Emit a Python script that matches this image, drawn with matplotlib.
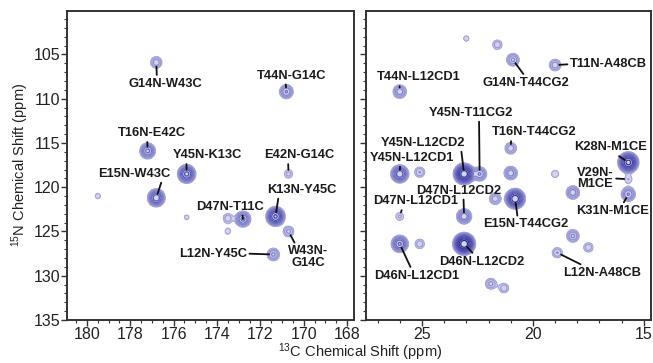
import numpy as np
import matplotlib
matplotlib.use("Agg")
import matplotlib.pyplot as plt
from matplotlib.colors import LinearSegmentedColormap
from matplotlib.ticker import MultipleLocator

plt.rcParams["font.family"] = ["Liberation Sans", "DejaVu Sans"]
plt.rcParams["mathtext.fontset"] = "custom"
plt.rcParams["mathtext.rm"] = "Liberation Sans"
plt.rcParams["mathtext.default"] = "regular"

# 左圖: 羰基碳 (C') 區域的峰 (13C, 15N, 強度)
left_peak_c = [176.8, 170.8, 177.2, 175.4, 176.8, 170.7, 171.3, 172.8, 170.7, 171.4,
               179.5, 173.5, 173.5, 175.4]
left_peak_n = [105.9, 109.2, 115.9, 118.5, 121.2, 118.5, 123.3, 123.6, 125.0, 127.6,
               121.0, 123.5, 125.0, 123.4]
left_peak_int = [2.5, 4, 6, 12, 10, 1.6, 16, 6, 2.2, 3,
                 1.2, 1.8, 1.2, 1.15]

left_labels = ["G14N-W43C", "T44N-G14C", "T16N-E42C", "Y45N-K13C", "E15N-W43C",
               "E42N-G14C", "K13N-Y45C", "D47N-T11C", "W43N-\nG14C", "L12N-Y45C"]
left_label_c = [176.4, 170.55, 177.0, 174.45, 177.8, 170.2, 170.1, 173.4, 169.8, 174.2]
left_label_n = [108.3, 107.4, 113.9, 116.4, 118.5, 116.4, 120.3, 122.2, 127.9, 127.5]
left_relpos = [(0.39, 1), (0.41, 0), (0.43, 0), (0.2, 0), (0.88, 0),
               (0.34, 0), (0.17, 0), (0.68, 0), (0.2, 1), (1, 0.5)]

# 右圖: 脂肪族碳區域的峰
right_peak_c = [26.0, 20.9, 19.0, 22.4, 23.1, 26.0, 21.0, 15.7, 15.7, 15.7,
                23.1, 26.0, 20.8, 26.0, 23.1, 18.9,
                23.0, 21.6, 25.1, 21.0, 19.0, 18.2, 21.7, 25.1, 18.2, 17.5, 21.9, 21.3]
right_peak_n = [109.2, 105.6, 106.2, 118.5, 118.5, 118.5, 115.6, 117.2, 119.1, 120.8,
                123.3, 123.3, 121.3, 126.4, 126.4, 127.4,
                103.2, 103.9, 118.3, 118.4, 118.5, 120.6, 121.3, 126.4, 125.5, 126.8, 130.9, 131.4]
right_peak_int = [3.5, 3, 2.5, 4, 28, 10, 2.5, 24, 1.4, 4,
                  5, 1.5, 20, 8, 40, 2,
                  1.2, 1.8, 2, 3.5, 1.4, 3.5, 2.5, 1.8, 3, 1.8, 2.2, 1.8]

right_labels = ["T44N-L12CD1", "G14N-T44CG2", "T11N-A48CB", "Y45N-T11CG2", "Y45N-L12CD2",
                "Y45N-L12CD1", "T16N-T44CG2", "K28N-M1CE", "V29N-\nM1CE", "K31N-M1CE",
                "D47N-L12CD2", "D47N-L12CD1", "E15N-T44CG2", "D46N-L12CD1", "D46N-L12CD2",
                "L12N-A48CB"]
right_label_c = [25.14, 20.3, 18.32, 22.77, 24.95, 25.45, 19.95, 16.5, 17.2, 16.4,
                 23.36, 25.3, 20.3, 25.23, 22.3, 16.9]
right_label_n = [107.6, 108.2, 106.1, 111.6, 115.0, 116.7, 113.8, 115.5, 119.0, 122.7,
                 120.4, 121.6, 124.2, 130.0, 128.4, 129.7]
right_relpos = [(0.27, 0), (0.49, 1), (0, 0.5), (0.59, 0), (0.95, 0),
                (0.36, 0), (0.23, 0), (0.56, 0), (1, 0.5), (0.63, 1),
                (0.56, 0), (0.35, 0), (0.4, 1), (0.44, 1), (0.42, 1), (0.3, 1)]

sigma_c = 0.19
sigma_n = 0.48
levels = 1.4 ** np.arange(12)
cmap = LinearSegmentedColormap.from_list("nmr", ["#a9a9dc", "#5c5cba", "#1e1e86"])
line_colors = [cmap(i / (len(levels) - 1)) for i in range(len(levels))]


def draw_panel(ax, pc, pn, pi, labels, lc, ln, relpos, c_lim, n_lim):
    cc = np.linspace(c_lim[0], c_lim[1], 600)
    nn = np.linspace(n_lim[0], n_lim[1], 600)
    C, N = np.meshgrid(cc, nn)
    Z = np.zeros_like(C)
    for c, n, a in zip(pc, pn, pi):
        Z += a * np.exp(-((C - c) ** 2 / (2 * sigma_c ** 2) + (N - n) ** 2 / (2 * sigma_n ** 2)))
    ax.contourf(C, N, Z, levels=[levels[0], 1e6], colors=["#d3d3ee"])
    ax.contour(C, N, Z, levels=levels, colors=line_colors, linewidths=0.9)
    for i, txt in enumerate(labels):
        ha = "left" if relpos[i][0] == 0 else "center"
        ax.annotate(txt, xy=(pc[i], pn[i]), xytext=(lc[i], ln[i]),
                    ha=ha, va="center", fontsize=9.3, fontweight="bold", color="#1a1a1a",
                    multialignment="center", linespacing=0.95,
                    arrowprops=dict(arrowstyle="-", color="#111111", lw=1.3,
                                    shrinkA=0, shrinkB=3, relpos=relpos[i]))
    ax.set_xlim(c_lim)
    ax.set_ylim(n_lim)
    for sp in ax.spines.values():
        sp.set_linewidth(1.4)
        sp.set_color("#333333")
    ax.yaxis.set_major_locator(MultipleLocator(5))
    ax.yaxis.set_minor_locator(MultipleLocator(1))
    ax.tick_params(which="both", direction="out", top=False, right=False,
                   labelsize=11.5, color="#333333", labelcolor="#222222", pad=1)
    ax.tick_params(which="major", length=4, width=1)
    ax.tick_params(which="minor", length=2.5, width=0.8)


fig = plt.figure(figsize=(6.53, 3.63), dpi=100)
ax1 = fig.add_axes([0.1026, 0.1185, 0.4395, 0.851])
ax2 = fig.add_axes([0.5605, 0.1185, 0.4364, 0.851])

draw_panel(ax1, left_peak_c, left_peak_n, left_peak_int, left_labels,
           left_label_c, left_label_n, left_relpos, (180.92, 167.68), (135, 100.1))
ax1.xaxis.set_major_locator(MultipleLocator(2))
ax1.xaxis.set_minor_locator(MultipleLocator(0.5))

draw_panel(ax2, right_peak_c, right_peak_n, right_peak_int, right_labels,
           right_label_c, right_label_n, right_relpos, (27.52, 14.68), (135, 100.1))
ax2.xaxis.set_major_locator(MultipleLocator(5))
ax2.xaxis.set_minor_locator(MultipleLocator(1))
ax2.tick_params(axis="y", labelleft=False)

fig.text(0.031, 0.545, r"$^{15}$N Chemical Shift (ppm)", rotation=90,
         ha="center", va="center", fontsize=10.5, color="#222222")
fig.text(0.551, 0.03, r"$^{13}$C Chemical Shift (ppm)",
         ha="center", va="center", fontsize=10.5, color="#222222")

fig.savefig("out.png", dpi=100)
